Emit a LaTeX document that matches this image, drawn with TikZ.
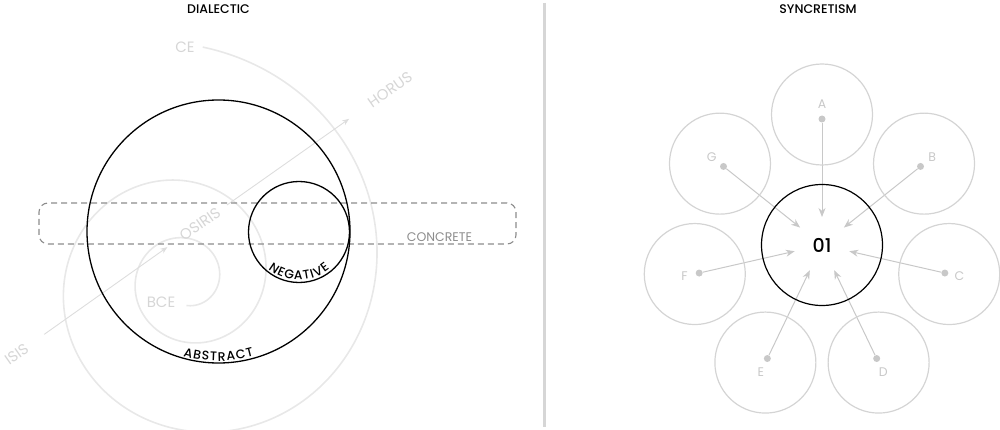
\documentclass[tikz,border=0pt]{standalone}
\usepackage{fontspec}
\setmainfont{Poppins}
\IfFontExistsTF{Poppins Medium}
  {\newfontfamily\medfont{Poppins Medium}}
  {\newfontfamily\medfont{Poppins}[FakeBold=1.5]}
\usetikzlibrary{arrows.meta,decorations.text,calc}
\definecolor{spiralgray}{HTML}{E8E8E8}
\definecolor{faintgray}{HTML}{D6D6D6}
\definecolor{arrowgray}{HTML}{DDDDDD}
\definecolor{satgray}{HTML}{D4D4D4}
\definecolor{dotgray}{HTML}{C8C8C8}
\definecolor{dashgray}{HTML}{8C8C8C}
\definecolor{sepgray}{HTML}{D6D6D6}
\pgfdeclarelayer{bg}
\pgfsetlayers{bg,main}
\begin{document}
\begin{tikzpicture}[x=1pt,y=-1pt,
  title/.style={font=\medfont\fontsize{12.5}{12.5}\selectfont, text=black, inner sep=0pt},
  faint/.style={font=\fontsize{15}{15}\selectfont, text=faintgray, inner sep=0pt},
  timeline/.style={draw=arrowgray, line width=0.9pt, -{Stealth[length=7pt,width=5.5pt]}},
  bigring/.style={circle, draw=black, line width=1.3pt, inner sep=0pt},
  concretebox/.style={draw=dashgray, line width=1.1pt, dash pattern=on 6pt off 4pt, rounded corners=9pt, inner sep=0pt},
  sat/.style={circle, draw=satgray, line width=1.2pt, minimum size=101pt, inner sep=0pt},
  satdot/.style={circle, fill=dotgray, minimum size=7pt, inner sep=0pt},
  satlabel/.style={font=\fontsize{12.5}{12.5}\selectfont, text=dotgray, inner sep=0pt},
  feed/.style={draw=dotgray, line width=1pt, -{Stealth[length=9pt,width=7pt]}, shorten >=28pt},
  arctext/.style 2 args={font=\medfont\fontsize{#2}{#2}\selectfont,
    decorate, decoration={text effects along path, text={#1}, text align=center,
      text effects/.cd, text along path,
      characters={font=\medfont\fontsize{#2}{#2}\selectfont, text=black, inner xsep=0.5pt, inner ysep=0pt, anchor=base},
      character widths={font=\medfont\fontsize{#2}{#2}\selectfont, inner xsep=0.5pt}}}
]
\useasboundingbox (0,0) rectangle (1000,430);

% titles
\node[title] (tdialectic) at (218.5,8.7) {DIALECTIC};
\node[title] (tsyncretism) at (818,8.7) {SYNCRETISM};

% separator
\draw[sepgray, line width=2.5pt] (544.5,3) -- (544.5,427);

% ---------------- left panel ----------------
\begin{pgfonlayer}{bg}
\draw[spiralgray, line width=1.6pt] plot[domain=-90:806, samples=400, smooth]
  ({186.5+32.9*exp(0.002432*\x)*cos(\x)}, {279-32.9*exp(0.002432*\x)*sin(\x)});
\end{pgfonlayer}

\node[faint] (ce) at (185,47) {CE};
\node[faint] (bce) at (161,302) {BCE};
\node[faint, rotate=35] (isis) at (16.5,354) {ISIS};
\node[faint, rotate=35] (osiris) at (200,224) {OSIRIS};
\node[faint, rotate=35] (horus) at (390,90) {HORUS};

\begin{pgfonlayer}{bg}
\draw[timeline, shorten <=34pt, shorten >=40pt] (isis.center) -- (osiris.center);
\draw[timeline, shorten <=33pt, shorten >=50pt] (osiris.center) -- (horus.center);
\end{pgfonlayer}

\node[concretebox, minimum width=477pt, minimum height=41pt] (concrete) at (277.5,223.5) {};
\node[font=\fontsize{12.5}{12.5}\selectfont, text=dashgray, inner sep=0pt] (concretelabel) at (439.5,237.5) {CONCRETE};

\node[bigring, minimum size=263pt] (abstract) at (218.5,231.5) {};
\node[bigring, minimum size=101pt] (negative) at (299,232) {};

\path[arctext={ABSTRACT}{12.5}]
  (abstract.center) ++(232:129.5pt) arc[start angle=232, end angle=308, radius=129.5pt];
\path[arctext={NEGATIVE}{12.5}]
  (negative.center) ++(205:48pt) arc[start angle=205, end angle=335, radius=48pt];

% ---------------- right panel ----------------
\node[circle, draw=black, line width=1.2pt, minimum size=121pt, inner sep=0pt,
      font=\medfont\fontsize{19}{19}\selectfont] (o1) at (822,245) {01};

\foreach \n/\l [count=\k from 0] in {a/A,b/B,c/C,d/D,e/E,f/F,g/G} {
  \pgfmathsetmacro\ang{90-\k*360/7}
  \node[sat] (sat\n) at ($(o1.center)+(\ang:130.5pt)$) {};
  \node[satdot] (dot\n) at ($(o1.center)+(\ang:126pt)$) {};
  \node[satlabel] (lab\n) at ($(o1.center)+(\ang:141pt)$) {\l};
  \begin{pgfonlayer}{bg}
  \draw[feed] (dot\n) -- (o1.center);
  \end{pgfonlayer}
}
\end{tikzpicture}
\end{document}
